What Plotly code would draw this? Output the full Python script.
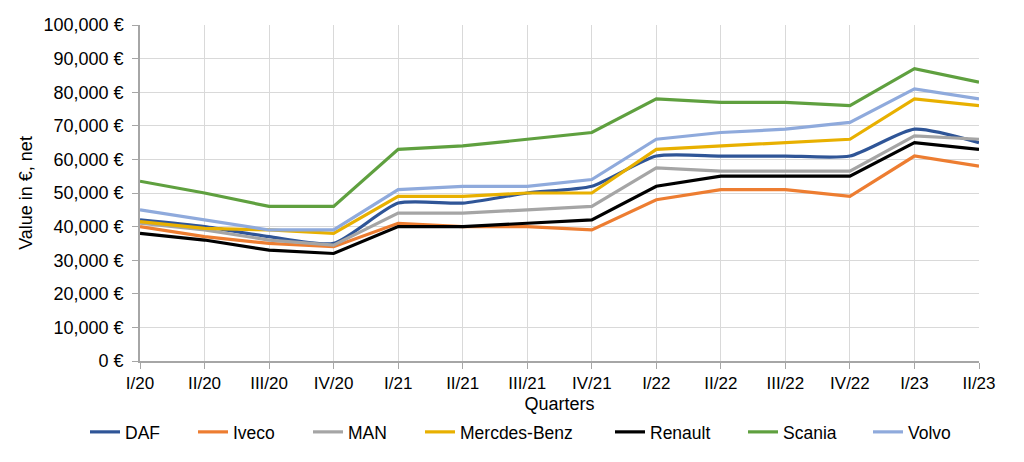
import plotly.graph_objects as go

quarters = ["I/20", "II/20", "III/20", "IV/20", "I/21", "II/21", "III/21", "IV/21",
            "I/22", "II/22", "III/22", "IV/22", "I/23", "II/23"]

daf = [42000, 40000, 37000, 35000, 47000, 47000, 50000, 52000, 61000, 61000, 61000, 61000, 69000, 65000]
iveco = [40000, 37000, 35000, 34000, 41000, 40000, 40000, 39000, 48000, 51000, 51000, 49000, 61000, 58000]
man = [41000, 39000, 36000, 34500, 44000, 44000, 45000, 46000, 57500, 56500, 56500, 56500, 67000, 66000]
mercedes = [41500, 39500, 39000, 38000, 49000, 49000, 50000, 50000, 63000, 64000, 65000, 66000, 78000, 76000]
renault = [38000, 36000, 33000, 32000, 40000, 40000, 41000, 42000, 52000, 55000, 55000, 55000, 65000, 63000]
scania = [53500, 50000, 46000, 46000, 63000, 64000, 66000, 68000, 78000, 77000, 77000, 76000, 87000, 83000]
volvo = [45000, 42000, 39000, 39000, 51000, 52000, 52000, 54000, 66000, 68000, 69000, 71000, 81000, 78000]

names = ["DAF", "Iveco", "MAN", "Mercdes-Benz", "Renault", "Scania", "Volvo"]
values = [daf, iveco, man, mercedes, renault, scania, volvo]
colors = ["#2f5597", "#ed7d31", "#a5a5a5", "#e8b000", "#000000", "#5fa03f", "#8faadc"]
shapes = ["spline", "linear", "linear", "linear", "linear", "linear", "linear"]
# left edges of each legend box (figure px)
legend_left = [77, 185, 300, 412, 602, 735, 860]

W, H = 1016, 454
font = "Liberation Sans, Arial, sans-serif"

fig = go.Figure()
legend_layout = {}
for i, (name, vals, color, shape) in enumerate(zip(names, values, colors, shapes)):
    lid = "legend" if i == 0 else f"legend{i + 1}"
    fig.add_trace(go.Scatter(
        x=quarters, y=vals, name=name, mode="lines", legend=lid,
        line=dict(color=color, width=3.2, shape=shape,
                  smoothing=0.6 if shape == "spline" else None),
    ))
    legend_layout[lid] = dict(
        xref="container", yref="container",
        x=legend_left[i] / W, xanchor="left",
        y=(H - 424) / H, yanchor="middle",
        orientation="h", font=dict(size=17.5, family=font, color="#000000"),
        bgcolor="rgba(0,0,0,0)", borderwidth=0,
    )

fig.update_layout(
    width=W, height=H,
    margin=dict(l=132, r=45, t=17, b=101, autoexpand=False),
    paper_bgcolor="white", plot_bgcolor="white",
    font=dict(family=font, size=17, color="#000000"),
    showlegend=True,
    xaxis=dict(
        title=dict(text="Quarters", font=dict(size=18), standoff=10),
        range=[0, len(quarters) - 1], automargin=False,
        showgrid=True, gridcolor="#d9d9d9", gridwidth=1,
        showline=True, linecolor="#a6a6a6", linewidth=1.5,
        ticks="outside", ticklen=6, tickcolor="#a6a6a6",
        tickfont=dict(size=17), zeroline=False,
    ),
    yaxis=dict(
        title=dict(text="Value in €, net", font=dict(size=18), standoff=6),
        range=[0, 100000], dtick=10000, automargin=False,
        tickformat=",d", ticksuffix=" €", ticklabelstandoff=5,
        showgrid=True, gridcolor="#d9d9d9", gridwidth=1,
        showline=True, linecolor="#a6a6a6", linewidth=1.5,
        ticks="outside", ticklen=6, tickcolor="#a6a6a6",
        tickfont=dict(size=18), zeroline=False,
    ),
    **legend_layout,
)

fig.write_html("out.html")
